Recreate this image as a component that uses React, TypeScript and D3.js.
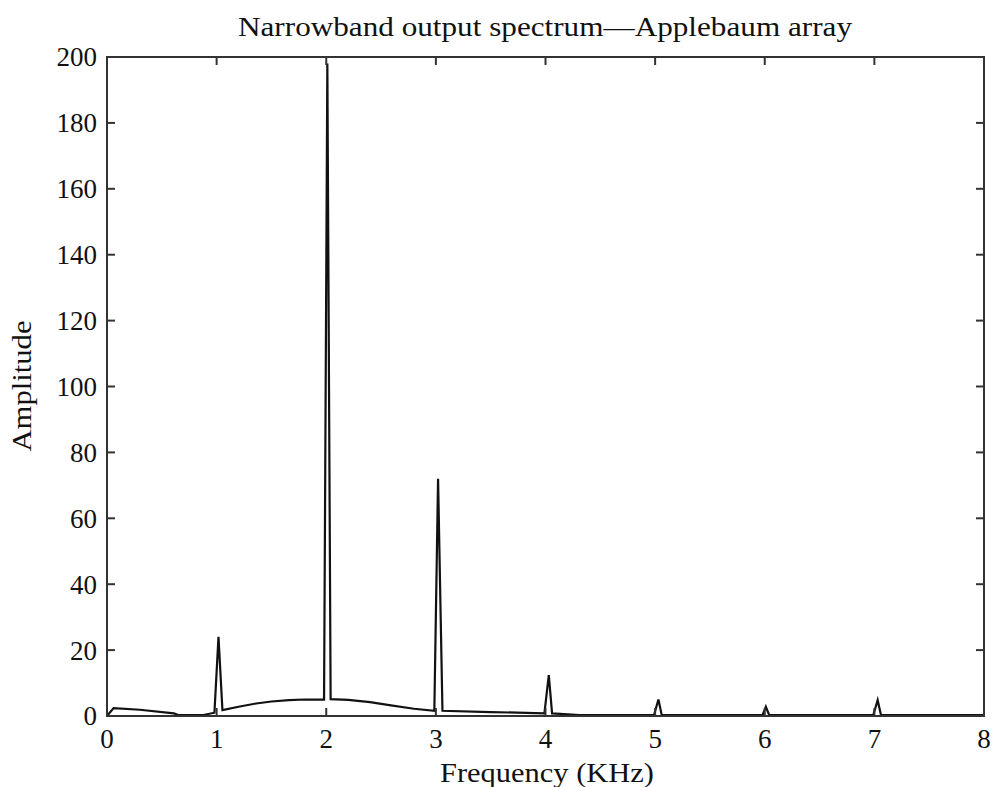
import React from "react";
import * as d3 from "d3";

// Spectrum samples: frequency (kHz) and amplitude
const freqKHz = [
  0, 0.06, 0.3, 0.61, 0.65, 0.88, 0.98, 1.017, 1.053, 1.2, 1.36, 1.5, 1.66, 1.8, 1.98,
  2.01, 2.04, 2.2, 2.4, 2.575, 2.8, 2.986, 3.02, 3.06, 3.5, 3.99, 4.03, 4.06, 4.31,
  4.99, 5.03, 5.06, 5.98, 6.01, 6.04, 6.99, 7.03, 7.06, 8,
];
const amplitude = [
  0, 2.4, 1.9, 0.8, 0.3, 0.3, 1.0, 24, 1.8, 2.8, 3.8, 4.4, 4.8, 5.0, 5.0,
  198, 5.1, 4.9, 4.2, 3.3, 2.2, 1.6, 72, 1.6, 1.2, 0.8, 12.4, 0.8, 0.3,
  0.3, 5.0, 0.3, 0.3, 2.8, 0.3, 0.3, 4.8, 0.3, 0.3,
];
const xTicks = [0, 1, 2, 3, 4, 5, 6, 7, 8];
const yTicks = [0, 20, 40, 60, 80, 100, 120, 140, 160, 180, 200];

const title = "Narrowband output spectrum\u2014Applebaum array";
const xLabel = "Frequency (KHz)";
const yLabel = "Amplitude";

const W = 996;
const H = 787;
const margin = { left: 107, right: 12, top: 57, bottom: 71 };
const font = "'Liberation Serif', 'DejaVu Serif', serif";

export default function App() {
  const x = d3.scaleLinear().domain([0, 8]).range([margin.left, W - margin.right]);
  const y = d3.scaleLinear().domain([0, 200]).range([H - margin.bottom, margin.top]);
  const pts: [number, number][] = freqKHz.map((f, i) => [f, amplitude[i]]);
  const line = d3
    .line<[number, number]>()
    .x((d) => x(d[0]))
    .y((d) => y(d[1]));

  const x0 = x(0), x1 = x(8), y0 = y(0), y1 = y(200);
  const tl = 8;
  const axisColor = "#333";

  return (
    <svg
      width={W}
      height={H}
      style={{ position: "absolute", left: 0, top: 0, background: "#fff" }}
    >
      <text
        x={545}
        y={36}
        textAnchor="middle"
        fontFamily={font}
        fontSize={28}
        fill="#111"
        textLength={614}
        lengthAdjust="spacingAndGlyphs"
      >
        {title}
      </text>

      {/* spectrum */}
      <path d={line(pts) || ""} fill="none" stroke="#111" strokeWidth={2.2} strokeLinejoin="miter" />

      {/* frame */}
      <rect x={x0} y={y1} width={x1 - x0} height={y0 - y1} fill="none" stroke={axisColor} strokeWidth={2} />

      {/* x ticks, inward on bottom and top */}
      {xTicks.map((t) => (
        <g key={"x" + t}>
          <line x1={x(t)} x2={x(t)} y1={y0} y2={y0 - tl} stroke={axisColor} strokeWidth={2} />
          <line x1={x(t)} x2={x(t)} y1={y1} y2={y1 + tl} stroke={axisColor} strokeWidth={2} />
          <text
            x={x(t)}
            y={y0 + 32}
            textAnchor="middle"
            fontFamily={font}
            fontSize={27}
            fill="#111"
          >
            {t}
          </text>
        </g>
      ))}

      {/* y ticks, inward on left and right */}
      {yTicks.map((t) => (
        <g key={"y" + t}>
          <line x1={x0} x2={x0 + tl} y1={y(t)} y2={y(t)} stroke={axisColor} strokeWidth={2} />
          <line x1={x1} x2={x1 - tl} y1={y(t)} y2={y(t)} stroke={axisColor} strokeWidth={2} />
          <text
            x={x0 - 10}
            y={y(t)}
            dy="0.35em"
            textAnchor="end"
            fontFamily={font}
            fontSize={27}
            fill="#111"
          >
            {t}
          </text>
        </g>
      ))}

      <text
        x={547}
        y={782}
        textAnchor="middle"
        fontFamily={font}
        fontSize={28}
        fill="#111"
        textLength={214}
        lengthAdjust="spacingAndGlyphs"
      >
        {xLabel}
      </text>
      <text
        transform={`translate(31, 386) rotate(-90)`}
        textAnchor="middle"
        fontFamily={font}
        fontSize={28}
        fill="#111"
        textLength={131}
        lengthAdjust="spacingAndGlyphs"
      >
        {yLabel}
      </text>
    </svg>
  );
}
